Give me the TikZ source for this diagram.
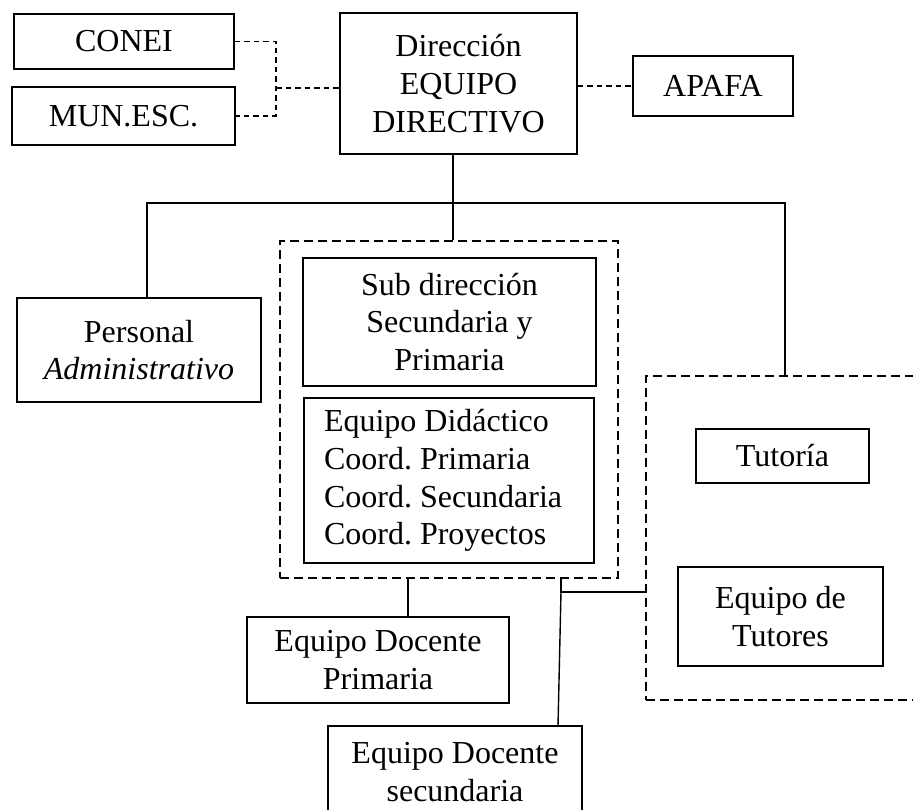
\documentclass[tikz,border=0pt]{standalone}
\usepackage{fontspec}
\setmainfont{Liberation Serif}
\begin{document}
\begin{tikzpicture}[x=1pt,y=-1pt,
  box/.style={draw, line width=1.5pt, rectangle, inner sep=0pt, align=center,
              font=\fontsize{32pt}{37.7pt}\selectfont\frenchspacing},
  group/.style={draw, line width=2.5pt, dash pattern=on 9pt off 5pt, rectangle, inner sep=0pt},
  link/.style={line width=1.4pt},
  dlink/.style={line width=1.3pt, dash pattern=on 5.5pt off 4pt}]
\clip (0,0) rectangle (913,809);
\fill[white] (0,0) rectangle (913,809);

% top row
\node[box, minimum width=220pt, minimum height=55pt] (conei) at (124,41.5) {CONEI};
\node[box, minimum width=223pt, minimum height=58pt] (mun) at (123.5,116) {MUN.ESC.};
\node[box, minimum width=237pt, minimum height=141pt] (dir) at (458.5,83.5) {Dirección\\EQUIPO\\DIRECTIVO};
\node[box, minimum width=160pt, minimum height=60pt] (apafa) at (713,86) {APAFA};

% dashed groups
\node[group, minimum width=338pt, minimum height=337pt] (grpA) at (449,409.5) {};
\node[group, minimum width=294pt, minimum height=324pt] (grpB) at (793,538) {};

% second level
\node[box, minimum width=244pt, minimum height=104pt] (pers) at (139,350) {Personal\\\textit{Administrativo}};
\node[box, minimum width=293pt, minimum height=128pt] (sub) at (449.5,322) {Sub dirección\\Secundaria y\\Primaria};
\node[box, align=flush left, text width=250pt, inner xsep=20pt, minimum height=165pt] (did) at (449,480.5)
  {Equipo Didáctico\\Coord. Primaria\\Coord. Secundaria\\Coord. Proyectos};
\node[box, minimum width=173pt, minimum height=54pt] (tut) at (782.5,456) {Tutoría};
\node[box, minimum width=205pt, minimum height=99pt] (tutores) at (780.5,616.5) {Equipo de\\Tutores};

% teaching teams
\node[box, minimum width=262pt, minimum height=86pt] (prim) at (378,660) {Equipo Docente\\Primaria};
\node[box, minimum width=254pt, minimum height=92pt] (sec) at (455,772) {Equipo Docente\\secundaria};

% junction points
\coordinate (jL) at (276,88);
\coordinate (bus) at (453,203);
\coordinate (busL) at (147,203);
\coordinate (busR) at (785,203);
\coordinate (dropP) at (408,600);
\coordinate (jS) at (561,592);
\coordinate (secIn) at (558,726);

% advisory links
\draw[dlink] (conei.east) -| (jL) |- (mun.east);
\draw[dlink] (jL) -- (jL -| dir.west);
\draw[dlink] (dir.east |- apafa.west) -- (apafa.west);

% hierarchy
\draw[link] (dir.south -| bus) -- (grpA.north -| bus);
\draw[link] (pers.north -| busL) |- (busR) -- (grpB.north -| busR);
\draw[link] (grpA.south -| dropP) -- (prim.north -| dropP);
\draw[link] (grpA.south -| jS) -- (jS) -- (jS -| grpB.west);
\draw[link] (jS) -- (secIn);
\end{tikzpicture}
\end{document}
